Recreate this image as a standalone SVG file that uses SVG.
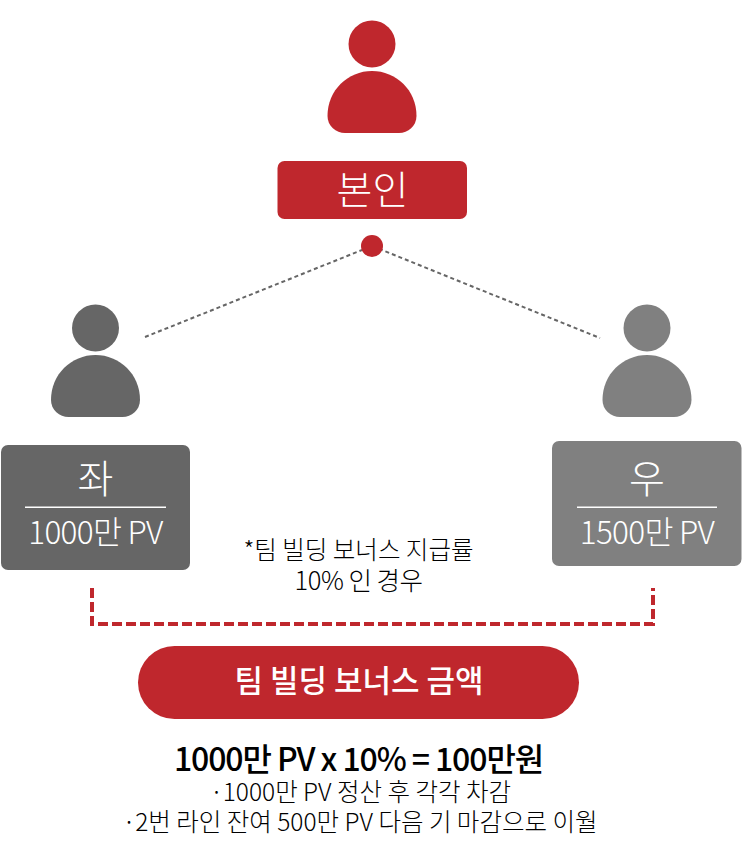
<svg xmlns="http://www.w3.org/2000/svg" width="742" height="853" viewBox="0 0 742 853">
<style>
text{font-family:"Noto Sans CJK KR","Noto Sans",sans-serif;text-anchor:middle}
.l{font-weight:300}
.w{fill:#fff}
.k{fill:#000}
.red{fill:#bf272d}
.dk{fill:#666}
.gr{fill:#808080}
</style>
<defs>
<g id="person">
<circle cx="0" cy="-89" r="23.5"/>
<path d="M-44.500 -17C-44.500 -43 -24 -62 0 -62C24 -62 44.500 -43 44.500 -17C44.500 -7 36 0 27 0H-27C-36 0 -44.500 -7 -44.500 -17Z"/>
</g>
</defs>
<rect width="742" height="853" fill="#fff"/>
<g id="connectors" fill="none">
<path d="M145 337L372 246L600 338" stroke="#666" stroke-width="2" stroke-dasharray="4 3"/>
<path d="M92 588V624H653V588" stroke="#bf272d" stroke-width="4" stroke-dasharray="10 4"/>
</g>
<g id="node-self">
<use href="#person" x="372" y="133" class="red"/>
<rect x="277.500" y="161" width="189.500" height="58" rx="7" class="red"/>
<text x="372.500" y="204" font-size="39" class="w l">본인</text>
<circle cx="372" cy="246" r="11" class="red"/>
</g>
<g id="node-left">
<use href="#person" x="95.500" y="417" class="dk"/>
<rect x="1" y="445" width="189" height="125" rx="7" class="dk"/>
<text x="95.500" y="493" font-size="39" class="w l">좌</text>
<rect x="25" y="506.500" width="141" height="1.500" fill="#fff"/>
<text x="95.500" y="544" font-size="31.500" class="w l" letter-spacing="-.7">1000만 PV</text>
</g>
<g id="node-right">
<use href="#person" x="647" y="417" class="gr"/>
<rect x="552" y="441" width="189.500" height="125" rx="7" class="gr"/>
<text x="647" y="493" font-size="39" class="w l">우</text>
<rect x="577" y="506.500" width="140" height="1.500" fill="#fff"/>
<text x="647" y="544" font-size="31.500" class="w l" letter-spacing="-.7">1500만 PV</text>
</g>
<g id="note">
<text x="358.500" y="559" font-size="24.500" class="k l">*팀 빌딩 보너스 지급률</text>
<text x="358.500" y="590" font-size="25.500" class="k l" letter-spacing="-.5">10% 인 경우</text>
</g>
<g id="node-bonus">
<rect x="138" y="646" width="441" height="73" rx="36.500" class="red"/>
<text x="359" y="692" font-size="31" class="w" font-weight="500">팀 빌딩 보너스 금액</text>
</g>
<g id="result">
<text x="358.500" y="771" font-size="32" class="k" font-weight="500" letter-spacing="-1.1">1000만 PV x 10% = 100만원</text>
<text x="360.500" y="801" font-size="24.500" class="k l"><tspan letter-spacing="-3">· </tspan>1000만 PV 정산 후 각각 차감</text>
<text x="360" y="831" font-size="24.500" class="k l"><tspan letter-spacing="-3">· </tspan>2번 라인 잔여 500만 PV 다음 기 마감으로 이월</text>
</g>
</svg>
